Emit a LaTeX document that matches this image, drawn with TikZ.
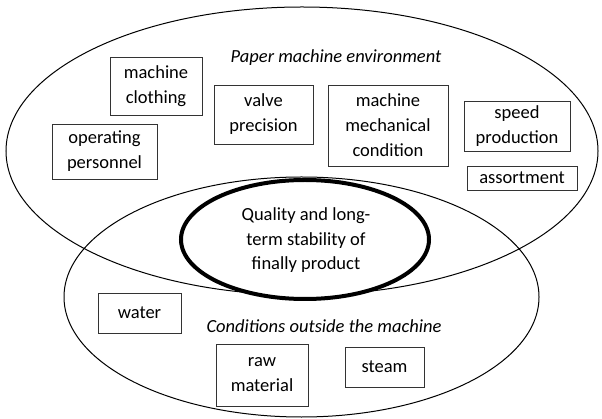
\documentclass[tikz,border=0pt]{standalone}
\usepackage{fontspec}
\setmainfont{Carlito}
\begin{document}
\begin{tikzpicture}[x=1pt,y=-1pt,
    factor/.style={draw=black!80, line width=0.8pt, align=center, inner sep=0pt,
      font=\fontsize{18.5}{25}\selectfont},
    title/.style={font=\fontsize{18.5}{25}\selectfont\itshape},
    ring/.style={line width=1pt}]
\useasboundingbox (0,0) rectangle (602,419);
% ellipses
\draw[ring] (302,151) ellipse (296 and 144);
\draw[ring] (301.5,297) ellipse (237.5 and 120);
\draw[line width=4pt, fill=white] (305,239.5) ellipse (124 and 59.5);
% machine environment
\node[title] (envtitle) at (336,58) {Paper machine environment};
\node[factor, minimum width=92, minimum height=58] (clothing) at (156,86) {machine\\clothing};
\node[factor, minimum width=105, minimum height=55] (personnel) at (104.5,151.5) {operating\\personnel};
\node[factor, minimum width=99, minimum height=59] (valve) at (263.5,114.5) {valve\\precision};
\node[factor, minimum width=120, minimum height=81] (mech) at (388,125.5) {machine\\mechanical\\condition};
\node[factor, minimum width=106, minimum height=50] (speed) at (517,126) {speed\\production};
\node[factor, minimum width=110, minimum height=24] (assort) at (522,178) {assortment};
% centre
\node[align=center, font=\fontsize{18.5}{24.5}\selectfont] (quality) at (306,240.5) {Quality and long-\\term stability of\\finally product};
% outside conditions
\node[title] (outtitle) at (324,326) {Conditions outside the machine};
\node[factor, minimum width=83, minimum height=40] (water) at (139.5,313) {water};
\node[factor, minimum width=92, minimum height=62] (raw) at (262,375) {raw\\material};
\node[factor, minimum width=79, minimum height=40] (steam) at (384.5,367) {steam};
\end{tikzpicture}
\end{document}
